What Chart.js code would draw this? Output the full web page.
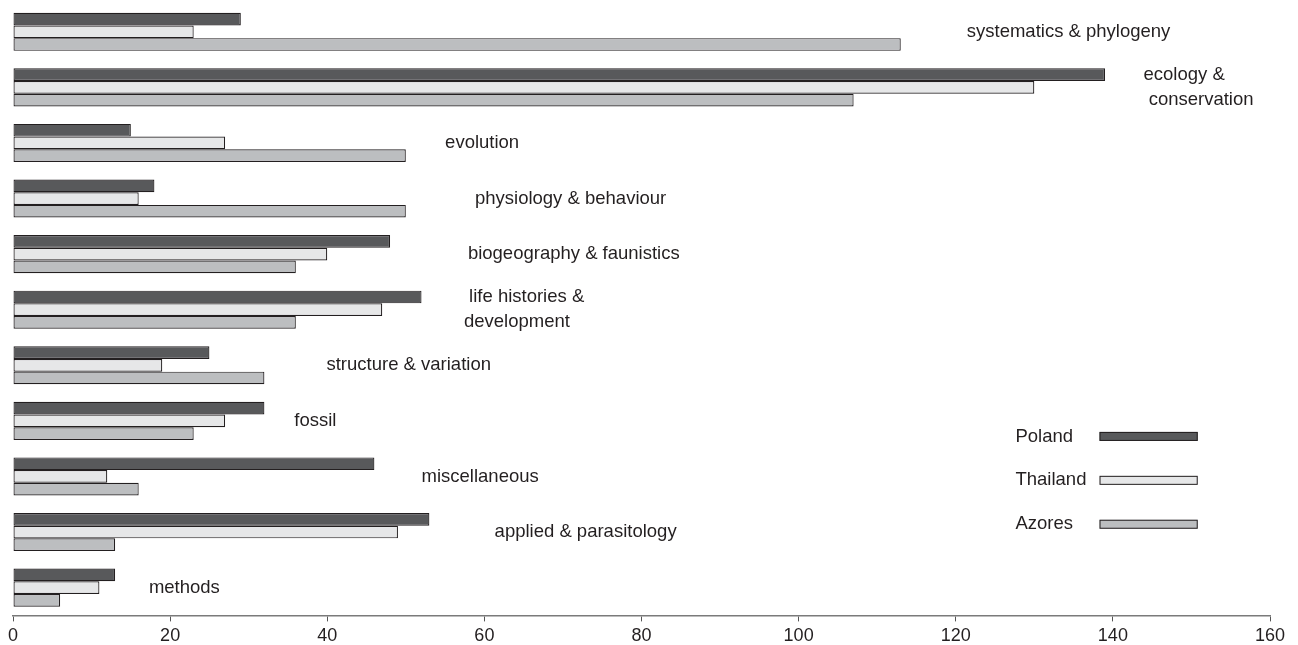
<!DOCTYPE html>
<html lang="en">
  <head>
    <meta charset="UTF-8" />
    <title>Publications by topic</title>
    <script src="https://cdn.jsdelivr.net/npm/chart.js"></script>
    <style>
      html, body { margin: 0; padding: 0; background: #fff; }
      #wrap { width: 1298px; height: 645px; }
    </style>
  </head>
  <body>
    <div id="wrap"><canvas id="chart_topics"></canvas></div>

    <script>
      // categories, top to bottom
      const topics = [
        ['systematics & phylogeny'],
        ['ecology &', ' conservation'],
        ['evolution'],
        ['physiology & behaviour'],
        ['biogeography & faunistics'],
        [' life histories &', 'development'],
        ['structure & variation'],
        ['fossil'],
        ['miscellaneous'],
        ['applied & parasitology'],
        ['methods'],
      ];

      const poland = [29, 139, 15, 18, 48, 52, 25, 32, 46, 53, 13];
      const thailand = [23, 130, 27, 16, 40, 47, 19, 27, 12, 49, 11];
      const azores = [113, 107, 50, 50, 36, 36, 32, 23, 16, 13, 6];

      const xTicks = [0, 20, 40, 60, 80, 100, 120, 140, 160];

      // where each topic label sits (x in axis units)
      const labelAt = [121.4, 143.9, 55, 58.8, 57.9, 57.4, 39.9, 35.8, 52, 61.3, 17.3];

      const textColor = '#231f20';
      const font = '18.5px "Liberation Sans", Arial, sans-serif';

      // category text next to the bars
      const topicLabels = {
        id: 'topicLabels',
        afterDatasetsDraw(chart) {
          const ctx = chart.ctx;
          const x = chart.scales.x;
          const y = chart.scales.y;
          ctx.save();
          ctx.font = font;
          ctx.fillStyle = textColor;
          ctx.textBaseline = 'middle';
          topics.forEach((lines, i) => {
            const cx = x.getPixelForValue(labelAt[i]);
            const cy = y.getPixelForValue(i);
            const lh = 25;
            const start = cy - ((lines.length - 1) * lh) / 2;
            lines.forEach((t, j) => ctx.fillText(t, cx, start + j * lh));
          });
          ctx.restore();
        },
      };

      // legend: name on the left, flat bar on the right
      const sideLegend = {
        id: 'sideLegend',
        afterDraw(chart) {
          const ctx = chart.ctx;
          const x = chart.scales.x;
          const y = chart.scales.y;
          ctx.save();
          ctx.font = font;
          ctx.textBaseline = 'middle';
          chart.data.datasets.forEach((ds, i) => {
            const cy = y.getPixelForValue(7.28 + i * 0.79);
            ctx.fillStyle = textColor;
            ctx.fillText(ds.label, x.getPixelForValue(127.6), cy);
            const x0 = x.getPixelForValue(138.3);
            const x1 = x.getPixelForValue(150.8);
            ctx.fillStyle = ds.backgroundColor;
            ctx.fillRect(x0, cy - 4.5, x1 - x0, 9);
            ctx.strokeStyle = ds.borderColor;
            ctx.lineWidth = 1;
            ctx.strokeRect(x0 + 0.5, cy - 4.5 + 0.5, x1 - x0 - 1, 8);
          });
          ctx.restore();
        },
      };

      new Chart(document.getElementById('chart_topics'), {
        type: 'bar',
        data: {
          labels: topics,
          datasets: [
            { label: 'Poland', data: poland, backgroundColor: '#58595b' },
            { label: 'Thailand', data: thailand, backgroundColor: '#e6e7e8' },
            { label: 'Azores', data: azores, backgroundColor: '#bcbec0' },
          ].map((d) => ({
            ...d,
            borderColor: '#231f20',
            borderWidth: 1.2,
            borderSkipped: false,
            categoryPercentage: 0.685,
            barPercentage: 1,
          })),
        },
        options: {
          indexAxis: 'y',
          responsive: true,
          maintainAspectRatio: false,
          animation: false,
          layout: { padding: { left: 13, right: 28, top: 4, bottom: -6 } },
          plugins: {
            legend: { display: false },
            tooltip: { enabled: false },
          },
          scales: {
            y: {
              display: false,
            },
            x: {
              min: 0,
              max: 160,
              afterBuildTicks: (scale) => {
                scale.ticks = xTicks.map((v) => ({ value: v }));
              },
              border: { display: true, color: '#7a7a7a', width: 1.5 },
              grid: {
                drawOnChartArea: false,
                drawTicks: true,
                tickLength: 6,
                color: '#555',
              },
              ticks: {
                color: textColor,
                padding: 4,
                font: { family: '"Liberation Sans", Arial, sans-serif', size: 18 },
              },
            },
          },
        },
        plugins: [topicLabels, sideLegend],
      });
    </script>
  </body>
</html>
